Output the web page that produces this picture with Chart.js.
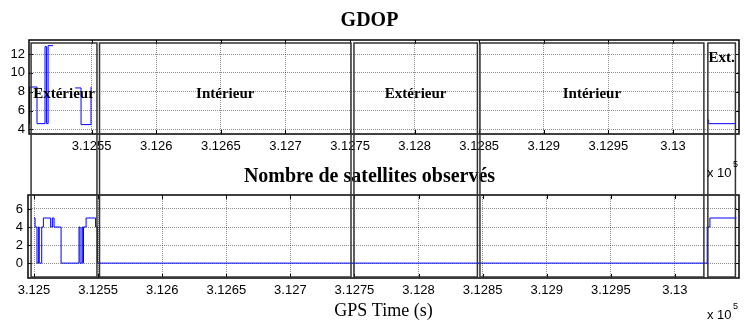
<!DOCTYPE html>
<html>
<head>
<meta charset="utf-8">
<script src="https://cdn.jsdelivr.net/npm/chart.js@4.4.1/dist/chart.umd.min.js"></script>
<style>
  body { margin: 0; background: #fff; }
  #wrap { position: relative; width: 745px; height: 320px; }
  #wrap canvas { position: absolute; left: 0; }
  #gdopChart { top: 0; }
  #satChart { top: 160px; }
  #overlay { top: 0; pointer-events: none; }
</style>
</head>
<body>
<div id="wrap">
  <canvas id="gdopChart" width="745" height="160"></canvas>
  <canvas id="satChart" width="745" height="160"></canvas>
  <canvas id="overlay" width="745" height="320"></canvas>
</div>
<script>
// GPS time axis (x 10^5 s)
const xTicks = [3.125, 3.1255, 3.126, 3.1265, 3.127, 3.1275, 3.128, 3.1285, 3.129, 3.1295, 3.13];
const gdopTicks = [4, 6, 8, 10, 12];
const satTicks = [0, 2, 4, 6];

// GDOP: each value holds until the next time stamp, null = no solution
const gdopTime  = [3.125005, 3.125018, 3.125077, 3.125139, 3.125151, 3.125163, 3.125201, 3.125205,
                   3.125372, 3.125418, 3.125495, 3.125497,
                   3.130265, 3.130276, 3.130480];
const gdopValue = [4.6, 8.5, 4.6, 12.8, 4.6, 12.9, 12.9, null,
                   8.4, 4.5, 8.5, null,
                   5.0, 4.6, 4.6];

// number of satellites observed
const satTime  = [3.125000, 3.125008, 3.125023, 3.125034, 3.125041, 3.125060, 3.125073, 3.125130,
                  3.125143, 3.125156, 3.125211, 3.125351, 3.125359, 3.125374, 3.125381, 3.125386,
                  3.125406, 3.125480, 3.125495, 3.130252, 3.130273, 3.130481];
const satCount = [5, 4, 0, 4, 0, 4, 5, 4,
                  5, 4, 0, 4, 0, 4, 0, 4,
                  5, 4, 0, 4, 5, 5];

// environment zones along the track
const zoneNames  = ['Extérieur', 'Intérieur', 'Extérieur', 'Intérieur', 'Ext.'];
const zoneStart  = [3.124977, 3.125511, 3.127496, 3.128479, 3.130257];
const zoneEnd    = [3.125491, 3.127473, 3.128459, 3.130226, 3.130472];
const zoneLabelY = [7.7, 7.7, 7.7, 7.7, 11.6];

const tickFont = { family: '"Liberation Sans", Arial, sans-serif', size: 13 };
const titleFont = { family: '"Liberation Serif", "Times New Roman", serif', size: 20, weight: 'bold' };

// box round the axes with inward ticks, like the other plots of the report
const boxPlugin = {
  id: 'box',
  afterDraw(chart) {
    const { ctx, chartArea: a, scales } = chart;
    ctx.save();
    ctx.strokeStyle = '#000';
    ctx.lineWidth = 1;
    ctx.beginPath();
    scales.x.ticks.forEach(t => {
      const x = Math.round(scales.x.getPixelForValue(t.value)) + 0.5;
      ctx.moveTo(x, a.bottom); ctx.lineTo(x, a.bottom - 4);
      ctx.moveTo(x, a.top); ctx.lineTo(x, a.top + 4);
    });
    scales.y.ticks.forEach(t => {
      const y = Math.round(scales.y.getPixelForValue(t.value)) + 0.5;
      ctx.moveTo(a.left, y); ctx.lineTo(a.left + 4, y);
      ctx.moveTo(a.right, y); ctx.lineTo(a.right - 4, y);
    });
    ctx.stroke();
    ctx.lineWidth = 1.5;
    ctx.strokeRect(a.left, a.top, a.right - a.left, a.bottom - a.top);
    ctx.restore();
  }
};

function panelOptions(o) {
  return {
    responsive: false,
    animation: false,
    layout: { padding: { left: 0, right: 6, top: 0, bottom: 0 } },
    plugins: {
      legend: { display: false },
      tooltip: { enabled: false },
      title: { display: true, text: o.title, color: '#000', font: titleFont, padding: o.titlePad }
    },
    scales: {
      x: {
        type: 'linear',
        min: o.xMin,
        max: o.xMax,
        afterBuildTicks: s => { s.ticks = xTicks.filter(v => v >= s.min && v <= s.max).map(v => ({ value: v })); },
        afterFit: s => { s.height = o.xHeight; },
        ticks: { color: '#000', font: tickFont, padding: 5, maxRotation: 0, autoSkip: false,
                 callback: v => Number(v.toFixed(4)).toString() },
        grid: { color: 'rgba(0,0,0,0.45)', drawTicks: false },
        border: { display: false, dash: [1, 1] },
        title: o.xTitle ? { display: true, text: o.xTitle, color: '#000',
                            font: { family: '"Liberation Serif", "Times New Roman", serif', size: 18, lineHeight: 1 },
                            padding: 0 } : { display: false }
      },
      y: {
        min: o.yMin,
        max: o.yMax,
        afterBuildTicks: s => { s.ticks = o.yTicks.map(v => ({ value: v })); },
        afterFit: s => { s.width = o.yWidth; },
        ticks: { color: '#000', font: tickFont, padding: o.yPad },
        grid: { color: 'rgba(0,0,0,0.45)', drawTicks: false },
        border: { display: false, dash: [1, 1] }
      }
    }
  };
}

const gdopChart = new Chart(document.getElementById('gdopChart'), {
  type: 'line',
  data: {
    datasets: [{
      data: gdopTime.map((t, i) => ({ x: t, y: gdopValue[i] })),
      borderColor: '#0000ff',
      borderWidth: 1,
      pointRadius: 0,
      stepped: true,
      spanGaps: false
    }]
  },
  options: panelOptions({
    title: 'GDOP', titlePad: { top: 9, bottom: 7 },
    xMin: 3.125015, xMax: 3.130511, xHeight: 26,
    yMin: 3.5, yMax: 13.5, yTicks: gdopTicks, yWidth: 29, yPad: 4
  }),
  plugins: [boxPlugin]
});

const satChart = new Chart(document.getElementById('satChart'), {
  type: 'line',
  data: {
    datasets: [{
      data: satTime.map((t, i) => ({ x: t, y: satCount[i] })),
      borderColor: '#0000ff',
      borderWidth: 1,
      pointRadius: 0,
      stepped: true
    }]
  },
  options: panelOptions({
    title: 'Nombre de satellites observés', titlePad: { top: 5, bottom: 6 },
    xMin: 3.124953, xMax: 3.1305, xHeight: 42, xTitle: 'GPS Time (s)',
    yMin: -1.65, yMax: 7.55, yTicks: satTicks, yWidth: 28, yPad: 5
  }),
  plugins: [boxPlugin]
});

// zone boxes run across both panels, drawn on a canvas laid over them
function drawZones() {
  const ctx = document.getElementById('overlay').getContext('2d');
  const xs = satChart.scales.x;
  const gy = gdopChart.scales.y;
  const satTop = 160;
  const top = gdopChart.chartArea.top + 3;
  const bottom = satTop + satChart.chartArea.bottom - 1;

  ctx.save();
  ctx.strokeStyle = '#333';
  ctx.lineWidth = 1.5;
  ctx.fillStyle = '#000';
  ctx.textAlign = 'center';
  ctx.textBaseline = 'middle';
  ctx.font = 'bold 15px "Liberation Serif", "Times New Roman", serif';
  zoneStart.forEach((t0, i) => {
    const x0 = xs.getPixelForValue(t0);
    const x1 = xs.getPixelForValue(zoneEnd[i]);
    ctx.strokeRect(x0, top, x1 - x0, bottom - top);
    ctx.fillText(zoneNames[i], (x0 + x1) / 2, gy.getPixelForValue(zoneLabelY[i]));
  });

  // x 10^5 multipliers of the two time axes
  ctx.textAlign = 'left';
  const right = satChart.chartArea.right;
  [gdopChart.chartArea.bottom + 39, satTop + 155].forEach(y => {
    ctx.font = '13px "Liberation Sans", Arial, sans-serif';
    ctx.fillText('x 10', right - 32, y);
    ctx.font = '9px "Liberation Sans", Arial, sans-serif';
    ctx.fillText('5', right - 6, y - 8);
  });
  ctx.restore();
}
drawZones();
</script>
</body>
</html>
